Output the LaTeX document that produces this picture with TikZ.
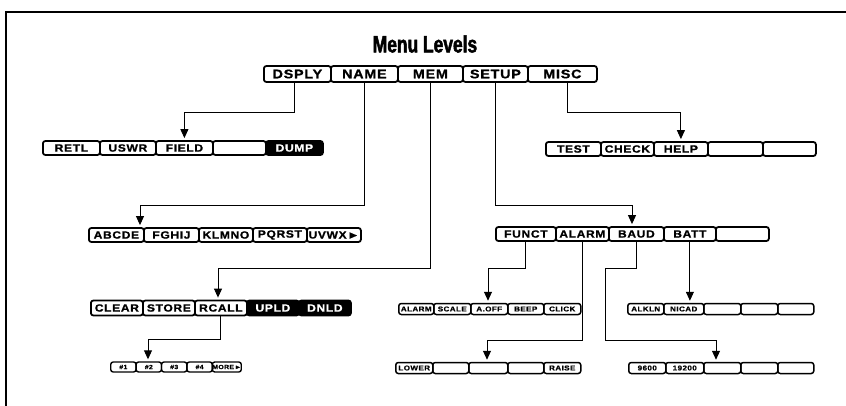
\documentclass[tikz,border=0pt]{standalone}
\usepackage{fontspec}
\setmainfont{Liberation Sans}
\newfontfamily\titlefont[FakeStretch=0.74,FakeBold=2]{Liberation Sans}
\newfontfamily\keyfont[FakeStretch=1.15,FakeBold=1,LetterSpace=6]{Liberation Sans}
\usetikzlibrary{arrows.meta}
\tikzset{
  key/.style={draw, line width=1.8pt, rounded corners=2.5pt, inner sep=0pt, anchor=west},
  bigkey/.style={key, minimum height=16pt, font=\keyfont\bfseries\fontsize{12.5}{12.5}\selectfont},
  midkey/.style={key, minimum height=14pt, font=\keyfont\bfseries\fontsize{10.5}{10.5}\selectfont},
  smallkey/.style={key, line width=1.5pt, minimum height=11pt, font=\keyfont\bfseries\fontsize{7}{7}\selectfont},
  tinykey/.style={key, line width=1.4pt, minimum height=10pt, font=\keyfont\bfseries\fontsize{6}{6}\selectfont},
  inv/.style={fill=black, text=white},
  conn/.style={draw, line width=0.9pt},
  arr/.style={conn, -{Triangle[length=9pt,width=8pt]}, shorten >=2pt},
  frame/.style={line width=2.5pt},
  titlestyle/.style={font=\titlefont\bfseries\fontsize{23.5}{23.5}\selectfont}
}
\begin{document}
\begin{tikzpicture}[x=1pt,y=-1pt]
\useasboundingbox (0,0) rectangle (846,406);
\draw[frame] (6,406) -- (6,12) -- (846,12);
\node[titlestyle] (title) at (425,44) {Menu Levels};

% top row
\node[bigkey, minimum width=67pt] (dsply) at (263,74) {DSPLY};
\node[bigkey, minimum width=67pt] (name)  at (330,74) {NAME};
\node[bigkey, minimum width=65pt] (mem)   at (397,74) {MEM};
\node[bigkey, minimum width=65pt] (setup) at (462,74) {SETUP};
\node[bigkey, minimum width=69pt] (misc)  at (527,74) {MISC};

% DSPLY row
\node[midkey, minimum width=57pt] (retl)  at (42,148) {RETL};
\node[midkey, minimum width=56pt] (uswr)  at (99,148) {USWR};
\node[midkey, minimum width=57pt] (field) at (155,148) {FIELD};
\node[midkey, minimum width=53pt] (dblank) at (212,148) {};
\node[midkey, inv, minimum width=57pt] (dump) at (265,148) {DUMP};

% MISC row
\node[midkey, minimum width=55pt] (test)  at (545,149) {TEST};
\node[midkey, minimum width=53pt] (check) at (600,149) {CHECK};
\node[midkey, minimum width=54pt] (help)  at (653,149) {HELP};
\node[midkey, minimum width=55pt] (mblank1) at (707,149) {};
\node[midkey, minimum width=53pt] (mblank2) at (762,149) {};

% NAME row
\node[midkey, minimum width=55pt] (abcde) at (88,235) {ABCDE};
\node[midkey, minimum width=55pt] (fghij) at (143,235) {FGHIJ};
\node[midkey, minimum width=54pt] (klmno) at (198,235) {KLMNO};
\node[midkey, minimum width=54pt] (pqrst) at (252,235) {PQRST};
\node[midkey, minimum width=54pt] (uvwx)  at (306,235) {UVWX►};

% SETUP row
\node[midkey, minimum width=60pt] (funct) at (495,234) {FUNCT};
\node[midkey, minimum width=53pt] (alarm) at (555,234) {ALARM};
\node[midkey, minimum width=55pt] (baud)  at (608,234) {BAUD};
\node[midkey, minimum width=52pt] (batt)  at (663,234) {BATT};
\node[midkey, minimum width=53pt] (sblank) at (715,234) {};

% MEM row
\node[midkey, minimum width=52pt, minimum height=15pt] (clear) at (90,308) {CLEAR};
\node[midkey, minimum width=52pt, minimum height=15pt] (store) at (142,308) {STORE};
\node[midkey, minimum width=52pt, minimum height=15pt] (rcall) at (194,308) {RCALL};
\node[midkey, inv, minimum width=52pt, minimum height=15pt] (upld) at (246,308) {UPLD};
\node[midkey, inv, minimum width=52pt, minimum height=15pt] (dnld) at (298,308) {DNLD};

% RCALL row
\node[tinykey, minimum width=25.4pt] (k1) at (110,367) {\#1};
\node[tinykey, minimum width=25.4pt] (k2) at (135.4,367) {\#2};
\node[tinykey, minimum width=25.4pt] (k3) at (160.8,367) {\#3};
\node[tinykey, minimum width=25.4pt] (k4) at (186.2,367) {\#4};
\node[tinykey, minimum width=25.4pt] (more) at (211.6,367) {MORE►};

% FUNCT row
\node[smallkey, minimum width=35pt] (falarm) at (398,309) {ALARM};
\node[smallkey, minimum width=37pt] (scale)  at (433,309) {SCALE};
\node[smallkey, minimum width=37pt] (aoff)   at (470,309) {A.OFF};
\node[smallkey, minimum width=36pt] (beep)   at (507,309) {BEEP};
\node[smallkey, minimum width=37pt] (click)  at (543,309) {CLICK};

% BATT row
\node[smallkey, minimum width=36pt] (alkln) at (627,309) {ALKLN};
\node[smallkey, minimum width=40pt] (nicad) at (663,309) {NICAD};
\node[smallkey, minimum width=37pt] (bblank1) at (703,309) {};
\node[smallkey, minimum width=37pt] (bblank2) at (740,309) {};
\node[smallkey, minimum width=36pt] (bblank3) at (777,309) {};

% ALARM row
\node[smallkey, minimum width=37pt] (lower) at (395,368) {LOWER};
\node[smallkey, minimum width=36pt] (ablank1) at (432,368) {};
\node[smallkey, minimum width=39pt] (ablank2) at (468,368) {};
\node[smallkey, minimum width=36pt] (ablank3) at (507,368) {};
\node[smallkey, minimum width=37pt] (raise) at (543,368) {RAISE};

% BAUD row
\node[smallkey, minimum width=37pt] (b9600)  at (628,368) {9600};
\node[smallkey, minimum width=38pt] (b19200) at (665,368) {19200};
\node[smallkey, minimum width=37pt] (cblank1) at (703,368) {};
\node[smallkey, minimum width=37pt] (cblank2) at (740,368) {};
\node[smallkey, minimum width=36pt] (cblank3) at (777,368) {};

% connectors
\coordinate (t1) at (294,112);
\draw[arr] (dsply.south -| t1) -- (t1) -| (field.north);
\coordinate (t2) at (140,205);
\draw[arr] (name.south) |- (t2) -- (t2 |- abcde.north);
\coordinate (t3) at (218,268);
\draw[arr] (mem.south) |- (t3) -- (t3 |- rcall.north);
\coordinate (t4) at (632,205);
\draw[arr] (setup.south) |- (t4) -- (t4 |- baud.north);
\coordinate (t5) at (567,112);
\draw[arr] (misc.south -| t5) -- (t5) -| (help.north);
\coordinate (t6) at (488,268);
\draw[arr] (funct.south) |- (t6) -- (t6 |- aoff.north);
\coordinate (t7) at (487,340);
\draw[arr] (alarm.south) |- (t7) -- (t7 |- lower.north);
\coordinate (t8a) at (605,268);
\coordinate (t8b) at (716,340);
\draw[arr] (baud.south) |- (t8a) |- (t8b) -- (t8b |- b19200.north);
\draw[arr] (batt.south) -- (batt.south |- alkln.north);
\coordinate (t9) at (148,339);
\draw[arr] (rcall.south) |- (t9) -- (t9 |- k1.north);
\end{tikzpicture}
\end{document}
